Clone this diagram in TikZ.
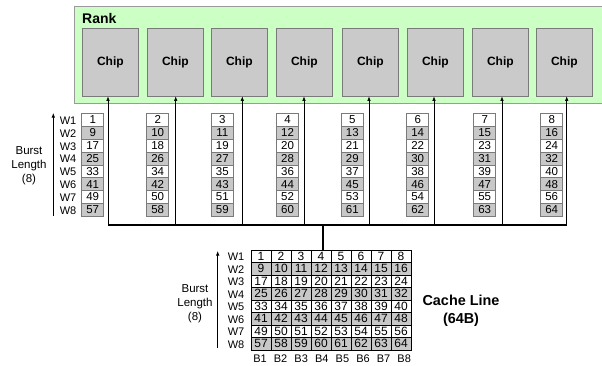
\documentclass[tikz,border=0pt]{standalone}
\usepackage{fontspec}
\setmainfont{Liberation Sans}
\usetikzlibrary{arrows.meta}
\definecolor{rankgreen}{HTML}{CCFFC4}
\definecolor{rankborder}{HTML}{9A9A9A}
\definecolor{chipfill}{HTML}{CACACA}
\definecolor{chipborder}{HTML}{7A7A7A}
\definecolor{cellgray}{HTML}{C8C8C8}
\begin{document}
\begin{tikzpicture}[x=1pt,y=-1pt,
  chipbox/.style={draw=chipborder,fill=chipfill,line width=0.8pt,minimum width=56pt,minimum height=68pt,inner sep=0pt,
    font=\fontsize{12}{14}\selectfont\bfseries},
  colcell/.style={draw=chipborder,line width=0.6pt,minimum width=22pt,minimum height=12.875pt,inner sep=0pt,
    font=\fontsize{11.5}{12}\selectfont},
  gridcell/.style={draw=black,line width=0.5pt,minimum width=20pt,minimum height=12.5pt,inner sep=0pt,
    font=\fontsize{12}{12}\selectfont},
  wlab/.style={font=\fontsize{11}{12}\selectfont,inner sep=0pt},
  blab/.style={font=\fontsize{11}{12}\selectfont,inner sep=0pt},
  sidelab/.style={font=\fontsize{11.5}{14}\selectfont,align=center,inner sep=0pt},
  uparrow/.style={line width=0.7pt,-{Latex[length=4.5pt,width=3.5pt]}},
  bus/.style={line width=1.8pt}
]
\useasboundingbox (0,0) rectangle (602,365);
% Rank
\fill[rankgreen] (74,6) rectangle (606,103);
\draw[rankborder,line width=0.9pt] (606,6) -- (74,6) -- (74,103) -- (606,103);
\node[anchor=west,inner sep=0pt,font=\fontsize{14}{17}\selectfont\bfseries] (rank) at (82,18.5) {Rank};
% Chips
\foreach \i/\x in {1/82,2/147,3/211,4/276,5/342,6/407,7/472,8/536}{
  \node[chipbox,anchor=north west] (c\i) at (\x,27.5) {Chip};
}
% Bus
\coordinate (bl) at (108,225);
\coordinate (br) at (567,225);
\draw[bus] (bl) -- (br);
\foreach \i/\x in {1/108,2/175.7,3/242.3,4/304,5/369,6/434,7/502,8/566.7}{
  \coordinate (b\i) at (\x,225);
  \draw[uparrow] (b\i) -- (b\i |- c\i.south);
}
% Columns of data
\foreach \i/\x in {1/81.7,2/146.7,3/211.3,4/276.5,5/341.3,6/406.7,7/473.7,8/540.7}{
  \foreach \r in {1,...,8}{
    \pgfmathtruncatemacro{\n}{(\r-1)*8+\i}
    \pgfmathtruncatemacro{\g}{mod(\r,2)}
    \ifnum\g=0
      \node[colcell,fill=cellgray] (k\i-\r) at ({\x+11},{113.3+(\r-0.5)*12.875}) {\n};
    \else
      \node[colcell,fill=white] (k\i-\r) at ({\x+11},{113.3+(\r-0.5)*12.875}) {\n};
    \fi
  }
}
% Left labels for columns
\foreach \r in {1,...,8}{
  \node[wlab] (wl\r) at (68,{113.3+(\r-0.5)*12.875+0.8}) {W\r};
}
\coordinate (la1) at (53.3,216);
\coordinate (la2) at (53.3,113);
\draw[uparrow] (la1) -- (la2);
\node[sidelab] (bl1) at (29,166) {Burst\\Length\\(8)};
% Cache line grid
\coordinate (stubtop) at (322.7,225);
\coordinate (stubbot) at (322.7,250);
\draw[bus] (stubtop) -- (stubbot);
\foreach \c in {1,...,8}{
  \foreach \r in {1,...,8}{
    \pgfmathtruncatemacro{\n}{(\r-1)*8+\c}
    \pgfmathtruncatemacro{\g}{mod(\r,2)}
    \ifnum\g=0
      \node[gridcell,fill=cellgray] (g\c-\r) at ({251+(\c-0.5)*20},{250+(\r-0.5)*12.5}) {\n};
    \else
      \node[gridcell,fill=white] (g\c-\r) at ({251+(\c-0.5)*20},{250+(\r-0.5)*12.5}) {\n};
    \fi
  }
  \node[blab] (bb\c) at ({260+(\c-1)*20.6},359) {B\c};
}
\foreach \r in {1,...,8}{
  \node[wlab] (gw\r) at (236,{250+(\r-0.5)*12.5+0.5}) {W\r};
}
\coordinate (ga1) at (217.7,348);
\coordinate (ga2) at (217.7,251);
\draw[uparrow] (ga1) -- (ga2);
\node[sidelab] (bl2) at (195,303.5) {Burst\\Length\\(8)};
\node[align=center,inner sep=0pt,font=\fontsize{14.4}{18}\selectfont\bfseries] (cl) at (461,311) {Cache Line\\(64B)};
\end{tikzpicture}
\end{document}
